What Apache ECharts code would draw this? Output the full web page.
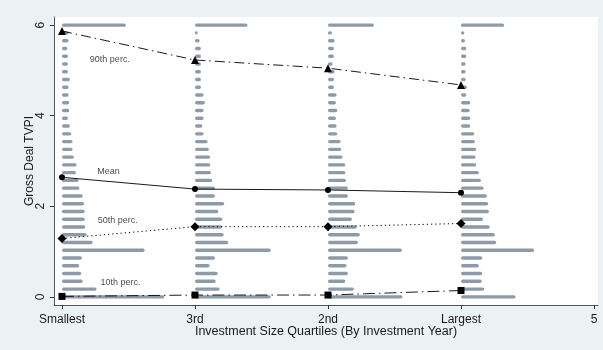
<!DOCTYPE html>
<html>
<head>
<meta charset="utf-8">
<script src="https://cdn.jsdelivr.net/npm/echarts@6/dist/echarts.min.js"></script>
<style>
  html, body { margin: 0; padding: 0; background: #eaf2f3; }
  #chart { width: 603px; height: 350px; }
</style>
</head>
<body>
<div id="chart"></div>
<script>
// x positions of the quartile groups
var quartiles = ['Smallest', '3rd', '2nd', 'Largest'];
var xTickLabels = ['Smallest', '3rd', '2nd', 'Largest', '5'];

// histogram bins (TVPI, bin step 6/35), from 0 up to 6 (capped)
var binStep = 6 / 35;

// bar length of each bin, in x units, bin 0 first
var histSmallest = [0.77, 0.26, 0.156, 0.145, 0.13, 0.15, 0.622, 0.231, 0.186, 0.175, 0.171, 0.171, 0.166, 0.156, 0.13, 0.125, 0.105, 0.11, 0.09, 0.08, 0.08, 0.07, 0.06, 0.045, 0.055, 0.055, 0.05, 0.05, 0.06, 0.045, 0.045, 0.045, 0.04, 0.05, 0.05, 0.48];
var hist3rd = [0.57, 0.186, 0.156, 0.171, 0.11, 0.15, 0.57, 0.25, 0.216, 0.205, 0.205, 0.175, 0.22, 0.15, 0.15, 0.13, 0.12, 0.115, 0.115, 0.105, 0.095, 0.065, 0.055, 0.065, 0.065, 0.075, 0.065, 0.045, 0.045, 0.045, 0.045, 0.045, 0.045, 0.035, 0.02, 0.395];
var hist2nd = [0.56, 0.195, 0.13, 0.15, 0.14, 0.15, 0.556, 0.225, 0.24, 0.216, 0.18, 0.2, 0.205, 0.15, 0.15, 0.135, 0.13, 0.13, 0.11, 0.1, 0.095, 0.07, 0.065, 0.06, 0.07, 0.06, 0.065, 0.045, 0.045, 0.05, 0.035, 0.045, 0.045, 0.05, 0.03, 0.345];
var histLargest = [0.41, 0.175, 0.156, 0.16, 0.135, 0.16, 0.55, 0.265, 0.255, 0.216, 0.165, 0.21, 0.205, 0.195, 0.17, 0.15, 0.135, 0.115, 0.11, 0.115, 0.105, 0.1, 0.07, 0.07, 0.065, 0.07, 0.04, 0.045, 0.035, 0.035, 0.035, 0.04, 0.04, 0.03, 0.025, 0.325];

// summary statistics per quartile
var p90 = [5.87, 5.23, 5.05, 4.68];
var meanVals = [2.64, 2.38, 2.36, 2.30];
var p50 = [1.29, 1.55, 1.55, 1.62];
var p10 = [0.01, 0.04, 0.04, 0.14];

// line labels: [x, y, text]
var lineLabels = [
  [1.36, 5.25, '90th perc.'],
  [1.35, 2.76, 'Mean'],
  [1.42, 1.68, '50th perc.'],
  [1.44, 0.31, '10th perc.']
];

var histData = [];
[histSmallest, hist3rd, hist2nd, histLargest].forEach(function(h, qi) {
  h.forEach(function(len, k) {
    histData.push([qi + 1, k * binStep, len]);
  });
});

function pts(arr) {
  return arr.map(function(v, i) { return [i + 1, v]; });
}

var chart = echarts.init(document.getElementById('chart'), null, { renderer: 'canvas' });

var lineCommon = {
  type: 'line',
  z: 5,
  itemStyle: { color: '#000' },
  symbolKeepAspect: true
};

var option = {
  backgroundColor: '#eaf2f3',
  animation: false,
  textStyle: { fontFamily: 'Liberation Sans' },
  grid: {
    left: 54, right: 5, top: 17, bottom: 45,
    show: true, backgroundColor: '#ffffff', borderWidth: 0
  },
  xAxis: {
    type: 'value',
    min: 0.94, max: 5.03,
    name: 'Investment Size Quartiles (By Investment Year)',
    nameLocation: 'middle',
    nameGap: 20,
    nameMoveOverlap: false,
    nameTextStyle: { fontSize: 12.5, color: '#1a1a1a', fontFamily: 'Liberation Sans' },
    axisLine: { onZero: false, lineStyle: { color: '#555', width: 1 } },
    axisTick: { show: true, length: 4, customValues: [1, 2, 3, 4, 5], lineStyle: { color: '#333' } },
    axisLabel: {
      customValues: [1, 2, 3, 4, 5],
      color: '#1a1a1a', fontSize: 12, margin: 9,
      formatter: function(v) { return xTickLabels[Math.round(v) - 1]; }
    },
    splitLine: { show: false }
  },
  yAxis: {
    type: 'value',
    min: -0.18, max: 6.18,
    name: 'Gross Deal TVPI',
    nameLocation: 'middle',
    nameGap: 18,
    nameMoveOverlap: false,
    nameTextStyle: { fontSize: 12, color: '#1a1a1a', fontFamily: 'Liberation Sans' },
    axisLine: { onZero: false, lineStyle: { color: '#555', width: 1 } },
    axisTick: { show: true, length: 4, customValues: [0, 2, 4, 6], lineStyle: { color: '#333' } },
    axisLabel: {
      customValues: [0, 2, 4, 6],
      rotate: 90, color: '#1a1a1a', fontSize: 12, margin: 7
    },
    splitLine: { show: false }
  },
  series: [
    {
      name: 'hist',
      type: 'custom',
      z: 2,
      data: histData,
      renderItem: function(params, api) {
        var start = api.coord([api.value(0), api.value(1)]);
        var end = api.coord([api.value(0) + api.value(2), api.value(1)]);
        var h = 3.4;
        return {
          type: 'rect',
          shape: { x: start[0], y: start[1] - h / 2, width: end[0] - start[0], height: h, r: h / 2 },
          style: { fill: '#8e9aa7' }
        };
      }
    },
    Object.assign({}, lineCommon, {
      name: '90th perc.', data: pts(p90),
      symbol: 'triangle', symbolSize: 8,
      lineStyle: { color: '#000', width: 0.9, type: [10, 4, 1.5, 4] }
    }),
    Object.assign({}, lineCommon, {
      name: 'Mean', data: pts(meanVals),
      symbol: 'circle', symbolSize: 6,
      lineStyle: { color: '#000', width: 0.9, type: 'solid' }
    }),
    Object.assign({}, lineCommon, {
      name: '50th perc.', data: pts(p50),
      symbol: 'diamond', symbolSize: 9,
      lineStyle: { color: '#000', width: 1, type: [1.2, 3] }
    }),
    Object.assign({}, lineCommon, {
      name: '10th perc.', data: pts(p10),
      symbol: 'rect', symbolSize: 7,
      lineStyle: { color: '#000', width: 0.9, type: [12, 4, 1.5, 4] }
    }),
    {
      name: 'labels',
      type: 'scatter',
      z: 6,
      symbolSize: 0,
      silent: true,
      data: lineLabels.map(function(d) { return { value: [d[0], d[1]], name: d[2] }; }),
      label: {
        show: true, position: 'inside',
        formatter: '{b}', color: '#1a1a1a', fontSize: 9, fontFamily: 'Liberation Sans'
      }
    }
  ]
};

chart.setOption(option);
</script>
</body>
</html>
